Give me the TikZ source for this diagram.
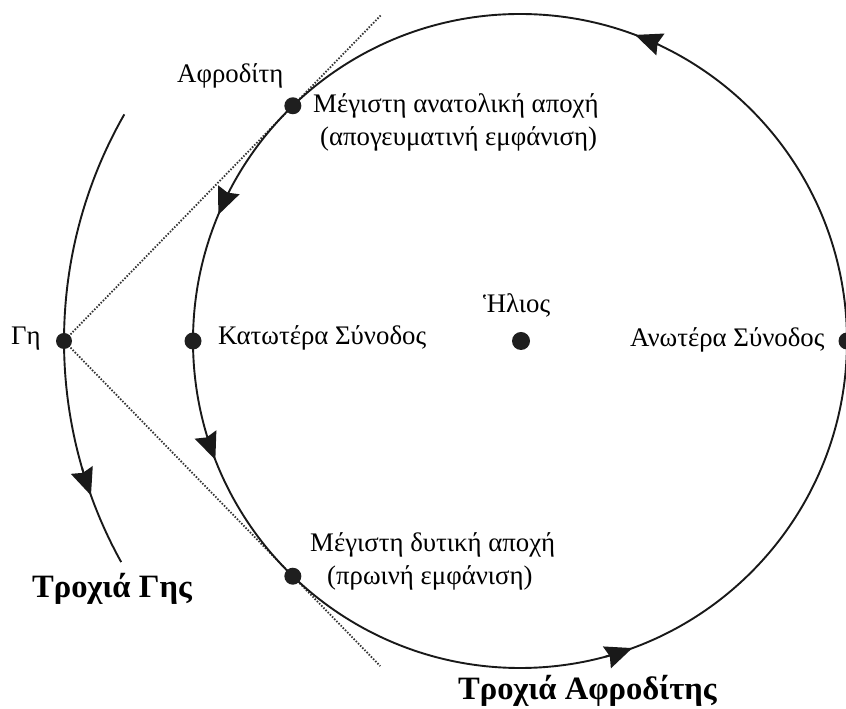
\documentclass[tikz,border=0pt]{standalone}
\usepackage{fontspec}
\setmainfont{Liberation Serif}
\usetikzlibrary{arrows.meta,calc,backgrounds}
\begin{document}
\begin{tikzpicture}[x=1pt,y=1pt,
  orbit/.style={line width=1.9pt, draw=black!90},
  dotline/.style={line width=1.8pt, draw=black!80, dash pattern=on 1.5pt off 1.6pt},
  body/.style={circle, fill=black!88, inner sep=0pt, minimum size=17pt},
  lbl/.style={anchor=base west, inner sep=0pt, font=\fontsize{26.8}{30}\selectfont},
  ttl/.style={anchor=base west, inner sep=0pt, font=\fontsize{32.6}{36}\selectfont\bfseries},
  tipline/.style={orbit, -{Stealth[length=27pt,width=23pt,inset=3pt]}}
]
\useasboundingbox (0,0) rectangle (846,709);
\coordinate (C) at (520,368);
% orbits
\draw[orbit] (C) circle[radius=327];
\draw[orbit] ($(C)+(150.2:456)$) arc[start angle=150.2, end angle=209, radius=456];
% direction arrows
\draw[tipline] ($(C)+(65:327)$) arc[start angle=65, end angle=69.4, radius=327];
\draw[tipline] ($(C)+(153:327)$) arc[start angle=153, end angle=157.3, radius=327];
\draw[tipline] ($(C)+(197:327)$) arc[start angle=197, end angle=201.3, radius=327];
\draw[tipline] ($(C)+(285.2:327)$) arc[start angle=285.2, end angle=290.1, radius=327];
\draw[tipline] ($(C)+(196.2:456)$) arc[start angle=196.2, end angle=199.8, radius=456];
% bodies
\node[body, minimum size=18pt] (sun) at (521,368) {};
\node[body, minimum size=16pt] (earth) at ($(C)+(180:456)$) {};
\node[body] (inf) at ($(C)+(180:327)$) {};
\node[body] (sup) at ($(C)+(0:327)$) {};
\node[body] (east) at ($(C)+(134:327)$) {};
\node[body] (west) at ($(C)+(226:327)$) {};
% sight lines
\coordinate (eastend) at ($(earth.center)!1.387!(east.center)$);
\coordinate (westend) at ($(earth.center)!1.382!(west.center)$);
\begin{scope}[on background layer]
\draw[dotline] (earth.center) -- (eastend);
\draw[dotline] (earth.center) -- (westend);
\end{scope}
% labels
\node[lbl] (lven) at (177,626) {Αφροδίτη};
\node[lbl] (least1) at (313,596) {Μέγιστη ανατολική αποχή};
\node[lbl] (least2) at (320,563) {(απογευματινή εμφάνιση)};
\node[lbl] (lwest1) at (310,157) {Μέγιστη δυτική αποχή};
\node[lbl] (lwest2) at (327,124) {(πρωινή εμφάνιση)};
\node[lbl] (lsun) at (483,396) {Ἡλιος};
\node[lbl] (learth) at (11,364) {Γη};
\node[lbl] (linf) at (218,364) {Κατωτέρα Σύνοδος};
\node[lbl] (lsup) at (630,362) {Ανωτέρα Σύνοδος};
\node[ttl] (tearth) at (32,111) {Τροχιά Γης};
\node[ttl] (tven) at (458,9) {Τροχιά Αφροδίτης};
\end{tikzpicture}
\end{document}
